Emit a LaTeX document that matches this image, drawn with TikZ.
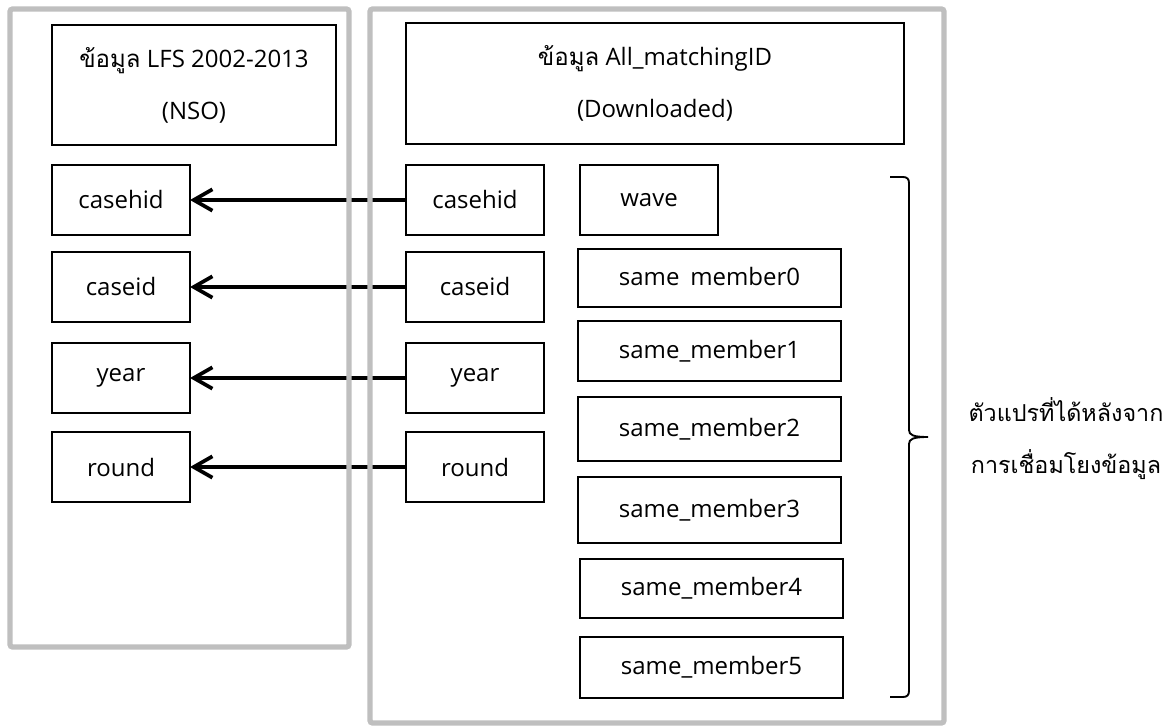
\documentclass[tikz,border=0pt]{standalone}
\usepackage{fontspec}
\setmainfont{Open Sans}
\newfontfamily\thaifont[Script=Thai]{Loma}
\usetikzlibrary{arrows.meta}
\definecolor{framegray}{RGB}{191,191,191}
\begin{document}
\begin{tikzpicture}[x=0.75pt,y=-0.75pt,
  box/.style n args={2}{draw=black, line width=1.5pt, inner sep=0pt, outer sep=0pt,
    minimum width=#1*0.75pt, minimum height=#2*0.75pt, align=center,
    font=\fontsize{18}{39}\selectfont},
  frame/.style={draw=framegray, line width=4pt, rounded corners=2pt},
  link/.style={line width=2.8pt, -{Straight Barb[length=14pt,width=16pt]}},
  bracepath/.style={line width=1.4pt},
  note/.style={align=center, font=\fontsize{17.5}{39}\selectfont\thaifont}
]
\useasboundingbox (0,0) rectangle (1174,727);

% title boxes
\node[box={284}{120}] (lfs) at (194,85) {{\thaifont ข้อมูล} LFS 2002-2013\\(NSO)};
\node[box={498}{121}] (amid) at (655,83.5) {{\thaifont ข้อมูล} All\_matchingID\\(Downloaded)};

% left variable boxes
\node[box={138}{70}] (lcasehid) at (121,200) {casehid};
\node[box={138}{70}] (lcaseid)  at (121,287) {caseid};
\node[box={138}{70}] (lyear)    at (121,378) {year};
\node[box={138}{70}] (lround)   at (121,467) {round};

% right variable boxes
\node[box={138}{70}] (rcasehid) at (475,200) {casehid};
\node[box={138}{70}] (rcaseid)  at (475,287) {caseid};
\node[box={138}{70}] (ryear)    at (475,378) {year};
\node[box={138}{70}] (rround)   at (475,467) {round};

\node[box={138}{70}] (wave) at (649,200) {wave};
\node[box={263}{58}] (m0) at (709.5,278) {same\phantom{\_}member0};
\node[box={263}{60}] (m1) at (709.5,351) {same\_member1};
\node[box={263}{64}] (m2) at (709.5,429) {same\_member2};
\node[box={263}{66}] (m3) at (709.5,510) {same\_member3};
\node[box={263}{59}] (m4) at (711.5,588.5) {same\_member4};
\node[box={263}{61}] (m5) at (711.5,667.5) {same\_member5};

% links
\draw[link] (rcasehid.west) -- (lcasehid.east);
\draw[link] (rcaseid.west) -- (lcaseid.east);
\draw[link] (ryear.west) -- (lyear.east);
\draw[link] (rround.west) -- (lround.east);

% gray frames
\draw[frame] (10,9) rectangle (349,647);
\draw[frame] (370,9) rectangle (944,723);

% brace
\draw[bracepath] (890,177) -- (903,177) .. controls (907,177) and (909,179) .. (909,183)
  -- (909,430) .. controls (909,435) and (913,437) .. (928,437)
  .. controls (913,437) and (909,439) .. (909,444)
  -- (909,691) .. controls (909,695) and (907,697) .. (903,697) -- (890,697);

\node[note] (note) at (1066,439) {ตัวแปรที่ได้หลังจาก\\การเชื่อมโยงข้อมูล};
\end{tikzpicture}
\end{document}
